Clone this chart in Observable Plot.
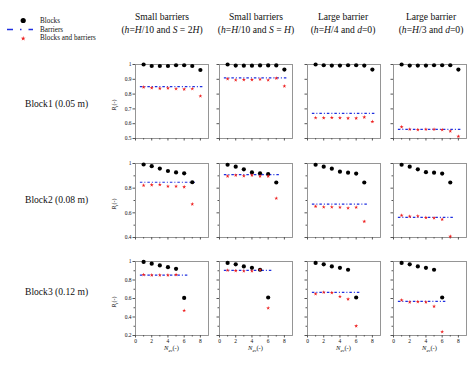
<!DOCTYPE html>
<html>
<head>
<meta charset="utf-8">
<script src="https://cdn.jsdelivr.net/npm/d3@7"></script>
<script src="https://cdn.jsdelivr.net/npm/@observablehq/plot@0.6"></script>
<style>
  html, body { margin: 0; padding: 0; background: #fff; }
  #root { position: relative; width: 474px; height: 366px; overflow: hidden; font-family: "Liberation Serif", "Times New Roman", "DejaVu Serif", serif; color: #111; }
  .abs { position: absolute; white-space: nowrap; }
  .title { font-size: 9.6px; text-align: center; transform: translateX(-50%); line-height: 12px; }
  .rowlab { font-size: 9.6px; transform: translateY(-50%); }
  .leg { font-size: 7.2px; transform: translateY(-50%); }
  .ylab { font-size: 6px; transform: translate(-50%, -50%) rotate(-90deg); }
  .xlab { font-size: 6.5px; transform: translateX(-50%); }
  sub { font-size: 70%; vertical-align: -1.5px; line-height: 0; }
  svg { overflow: visible; }
</style>
</head>
<body>
<div id="root"></div>
<script>
// ---------- DATA ----------
const colTitles = ["Small barriers", "Small barriers", "Large barrier", "Large barrier"];
const colSubtitles = [
  "(<i>h</i>=<i>H</i>/10 and <i>S</i> = 2<i>H</i>)",
  "(<i>h</i>=<i>H</i>/10 and <i>S</i> = <i>H</i>)",
  "(<i>h</i>=<i>H</i>/4 and <i>d</i>=0)",
  "(<i>h</i>=<i>H</i>/3 and <i>d</i>=0)"
];
const rowLabels = ["Block1 (0.05 m)", "Block2 (0.08 m)", "Block3 (0.12 m)"];
const legendLabels = ["Blocks", "Barriers", "Blocks and barriers"];
const yMin = [0.5, 0.4, 0.2];
const yMajorStep = [0.1, 0.2, 0.2];
const xMajorTicks = [0, 2, 4, 6, 8];
const xMinorTicks = [1, 3, 5, 7];

// Block1 (N = 1..8)
const blocksRow1 = [
  [1.0, 0.99, 0.99, 0.99, 0.995, 0.995, 0.99, 0.963],
  [1.0, 0.993, 0.992, 0.992, 0.994, 0.994, 0.994, 0.966],
  [1.0, 0.995, 0.993, 0.993, 0.995, 0.995, 0.993, 0.966],
  [1.0, 0.993, 0.993, 0.993, 0.995, 0.995, 0.995, 0.966]
];
const combinedRow1 = [
  [0.847, 0.842, 0.838, 0.84, 0.836, 0.833, 0.836, 0.787],
  [0.903, 0.895, 0.897, 0.897, 0.9, 0.895, 0.907, 0.854],
  [0.64, 0.639, 0.641, 0.639, 0.637, 0.637, 0.644, 0.614],
  [0.578, 0.562, 0.559, 0.562, 0.562, 0.559, 0.55, 0.514]
];
const barriersRow1 = [0.85, 0.91, 0.67, 0.562];

// Block2 (N = 1..7)
const blocksRow2 = [
  [0.992, 0.978, 0.959, 0.939, 0.928, 0.92, 0.848],
  [0.99, 0.974, 0.953, 0.928, 0.92, 0.915, 0.846],
  [0.99, 0.974, 0.958, 0.934, 0.926, 0.918, 0.846],
  [0.99, 0.974, 0.953, 0.93, 0.926, 0.918, 0.846]
];
const combinedRow2 = [
  [0.823, 0.826, 0.829, 0.815, 0.815, 0.81, 0.671],
  [0.897, 0.905, 0.9, 0.905, 0.897, 0.897, 0.718],
  [0.652, 0.647, 0.647, 0.645, 0.639, 0.645, 0.53],
  [0.579, 0.571, 0.574, 0.561, 0.558, 0.547, 0.409]
];
const barriersRow2 = [0.848, 0.91, 0.67, 0.563];

// Block3 (N = 1..6)
const blocksRow3 = [
  [0.995, 0.977, 0.958, 0.939, 0.921, 0.606],
  [0.985, 0.969, 0.947, 0.932, 0.911, 0.611],
  [0.985, 0.969, 0.947, 0.932, 0.911, 0.611],
  [0.985, 0.969, 0.947, 0.932, 0.911, 0.611]
];
const combinedRow3 = [
  [0.857, 0.853, 0.853, 0.853, 0.857, 0.47],
  [0.905, 0.9, 0.897, 0.897, 0.91, 0.497],
  [0.65, 0.667, 0.662, 0.621, 0.593, 0.303],
  [0.582, 0.561, 0.565, 0.561, 0.515, 0.24]
];
const barriersRow3 = [0.853, 0.905, 0.667, 0.569];

// ---------- LAYOUT ----------
const blocksAll = [blocksRow1, blocksRow2, blocksRow3];
const combinedAll = [combinedRow1, combinedRow2, combinedRow3];
const barriersAll = [barriersRow1, barriersRow2, barriersRow3];

const colLeft = [135, 219, 307, 393];
const rowTop = [64, 163, 261];
const PW = 73, PH = 74;
const mL = 24, mR = 4, mT = 4, mB = 14;
const titleX = [162, 256, 343, 431];

const BLACK = "#000000", BLUE = "#1f2fe0", RED = "#ee2020";

const root = document.getElementById("root");
function addDiv(cls, html, x, y) {
  const d = document.createElement("div");
  d.className = "abs " + cls;
  d.innerHTML = html;
  d.style.left = x + "px";
  d.style.top = y + "px";
  root.appendChild(d);
  return d;
}

// titles
colTitles.forEach((t, c) => {
  addDiv("title", t, titleX[c], 11);
  addDiv("title", colSubtitles[c], titleX[c], 24);
});
// row labels
const rowLabelY = [103, 199, 291];
rowLabels.forEach((t, r) => addDiv("rowlab", t, 25, rowLabelY[r]));

// legend
const legendSvg = Plot.plot({
  width: 40, height: 44, margin: 0,
  x: {domain: [0, 40], axis: null}, y: {domain: [44, 0], axis: null},
  style: {background: "transparent"},
  marks: [
    Plot.dot([{x: 22.7, y: 20}], {x: "x", y: "y", r: 2.6, fill: BLACK}),
    Plot.ruleY([29], {x1: 7, x2: 33, stroke: BLUE, strokeWidth: 1.6, strokeDasharray: "6 7 1.5 7"}),
    Plot.dot([{x: 22.7, y: 38}], {x: "x", y: "y", r: 1.5, symbol: "star", fill: RED})
  ]
});
legendSvg.style.position = "absolute";
legendSvg.style.left = "0px";
legendSvg.style.top = "0px";
root.appendChild(legendSvg);
const legendY = [21, 29.5, 38];
legendLabels.forEach((t, i) => addDiv("leg", t, 40, legendY[i]));

// panels
for (let r = 0; r < 3; r++) {
  for (let c = 0; c < 4; c++) {
    const blocks = blocksAll[r][c];
    const combined = combinedAll[r][c];
    const barrier = barriersAll[r][c];
    const n = blocks.length;
    const ptsB = blocks.map((v, i) => ({N: i + 1, R: v}));
    const ptsC = combined.map((v, i) => ({N: i + 1, R: v}));
    const yMajor = d3.range(1, yMin[r] - 1e-9, -yMajorStep[r]).map(v => +v.toFixed(2));
    const yMinor = d3.range(1, yMin[r] - 1e-9, -0.1).map(v => +v.toFixed(2)).filter(v => !yMajor.some(m => Math.abs(m - v) < 1e-6));
    const firstCol = c === 0, lastRow = r === 2;
    const svg = Plot.plot({
      width: PW + mL + mR, height: PH + mT + mB,
      marginLeft: mL, marginRight: mR, marginTop: mT, marginBottom: mB,
      x: {domain: [0, 9]},
      y: {domain: [yMin[r], 1]},
      style: {background: "transparent", fontFamily: "Liberation Serif", fontSize: "5.5px", color: "#111"},
      marks: [
        Plot.frame({stroke: "#8a8a8a", strokeWidth: 0.9}),
        Plot.axisX({ticks: xMajorTicks, tickSize: 2.5, tickPadding: 1.5, label: null, stroke: "#555",
          tickFormat: lastRow ? (d => String(d)) : (() => "")}),
        Plot.axisX({ticks: xMinorTicks, tickSize: 1.5, label: null, stroke: "#555", tickFormat: () => ""}),
        Plot.axisY({ticks: yMajor, tickSize: 2.5, tickPadding: 1.5, label: null, stroke: "#555",
          tickFormat: firstCol ? (d => d === 1 ? "1" : String(d)) : (() => "")}),
        Plot.axisY({ticks: yMinor, tickSize: 1.5, label: null, stroke: "#555", tickFormat: () => ""}),
        Plot.ruleY([barrier], {x1: 0.6, x2: n + 0.45, stroke: BLUE, strokeWidth: 1.2, strokeDasharray: "2.5 2 1 2"}),
        Plot.dot(ptsB, {x: "N", y: "R", r: 2.1, fill: BLACK}),
        Plot.dot(ptsC, {x: "N", y: "R", r: 1.25, symbol: "star", fill: RED})
      ]
    });
    svg.style.position = "absolute";
    svg.style.left = (colLeft[c] - mL) + "px";
    svg.style.top = (rowTop[r] - mT) + "px";
    root.appendChild(svg);

    if (firstCol) {
      addDiv("ylab", "<i>R</i><sub>r</sub>(-)", 114, rowTop[r] + PH * 0.55);
    }
    if (lastRow) {
      addDiv("xlab", "<i>N</i><sub><i>ev</i></sub>(-)", colLeft[c] + PW / 2, 344);
    }
  }
}
</script>
</body>
</html>
